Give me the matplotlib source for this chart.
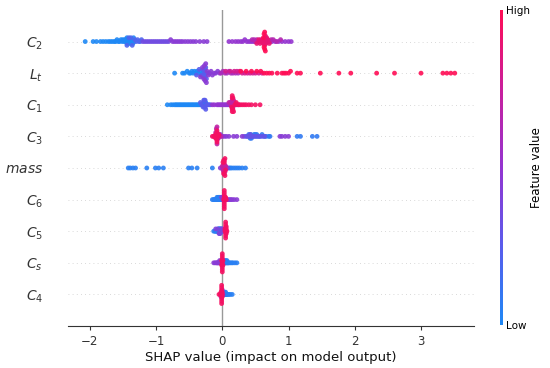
import numpy as np
import matplotlib
matplotlib.use("Agg")
import matplotlib.pyplot as plt
from matplotlib.colors import LinearSegmentedColormap
from matplotlib.cm import ScalarMappable

# features from top to bottom
features = [r"$C_2$", r"$L_t$", r"$C_1$", r"$C_3$", r"$mass$",
            r"$C_6$", r"$C_5$", r"$C_s$", r"$C_4$"]

# each feature: groups of SHAP values that share roughly the same feature value (colour)
C2_shap = [
    [-2.07, -1.95, -1.9, -1.84, -1.8, -1.76, -1.72, -1.69, -1.66, -1.63, -1.61, -1.59,
     -1.57, -1.55, -1.53, -1.51, -1.5, -1.48, -1.47, -1.46, -1.45, -1.44, -1.44,
     -1.43, -1.42, -1.41, -1.4, -1.39, -1.38, -1.37, -1.36, -1.35, -1.34, -1.33],
    [-1.44, -1.41, -1.38, -1.36, -1.32, -1.3, -1.28, -1.26, -1.24, -1.22],
    [-1.2, -1.17, -1.14, -1.11, -1.08, -1.05, -1.02, -0.99, -0.96, -0.93, -0.9, -0.87,
     -0.84, -0.81],
    [-0.78, -0.75, -0.72, -0.69, -0.66, -0.63, -0.6, -0.56, -0.52, -0.48, -0.44, -0.4,
     -0.34, -0.28, -0.23],
    [0.1, 0.15, 0.2, 0.24, 0.28, 0.31, 0.34, 0.37, 0.4, 0.43, 0.46, 0.49, 0.75, 0.8,
     0.85, 0.9, 0.95, 1.0, 1.04],
    [0.45, 0.48, 0.5, 0.52, 0.54, 0.56, 0.58, 0.66, 0.68, 0.7, 0.72, 0.74, 0.77, 0.82,
     0.88],
    [0.52, 0.55, 0.57, 0.59, 0.61, 0.62, 0.63, 0.63, 0.63, 0.64, 0.64, 0.65, 0.66, 0.67,
     0.69, 0.71],
    [0.62, 0.63, 0.63, 0.64, 0.64, 0.65],
]
C2_fval = [0.0, 0.2, 0.35, 0.45, 0.5, 0.65, 0.9, 1.0]

Lt_shap = [
    [-0.72, -0.6, -0.57, -0.53, -0.5, -0.48, -0.46, -0.44, -0.42, -0.4, -0.38, -0.36,
     -0.34, -0.32, -0.3, -0.28, -0.27],
    [-0.39, -0.35, -0.31, -0.29, -0.28, -0.27, -0.27, -0.26, -0.26, -0.25, -0.24, -0.22],
    [-0.33, -0.3, -0.28, -0.27, -0.26, -0.25, -0.24, -0.23, -0.21, -0.19, -0.17, -0.15,
     -0.12, -0.1, -0.07, -0.04],
    [-0.02, 0.01, 0.04, 0.07, 0.1, 0.13, 0.16, 0.2, 0.24],
    [0.05, 0.12, 0.18, 0.22, 0.26, 0.3, 0.34, 0.38, 0.42, 0.46, 0.5, 0.55, 0.6],
    [0.28, 0.36, 0.44, 0.52, 0.58, 0.63, 0.67, 0.71, 0.75, 0.83, 0.9, 0.93, 0.96, 1.0,
     1.03, 1.13, 1.18, 1.48, 1.76, 1.94, 2.33, 2.6, 3.0, 3.33, 3.39, 3.45, 3.51],
]
Lt_fval = [0.0, 0.25, 0.45, 0.6, 0.8, 1.0]

C1_shap = [
    [-0.83, -0.78, -0.75, -0.72, -0.7, -0.68, -0.66, -0.64, -0.62, -0.6, -0.58, -0.56,
     -0.54, -0.52, -0.5, -0.48, -0.46, -0.44, -0.42, -0.4, -0.38, -0.36, -0.34, -0.32,
     -0.3, -0.29, -0.28, -0.27, -0.27, -0.26, -0.25],
    [-0.33, -0.31, -0.29, -0.28, -0.27, -0.27, -0.26, -0.26, -0.25, -0.24, -0.23, -0.22,
     -0.2, -0.18],
    [-0.15, -0.12, -0.08, -0.06, -0.04, -0.02, 0.0, 0.02, 0.04, 0.06, 0.08, 0.1, 0.12,
     0.15, 0.16, 0.18],
    [0.1, 0.12, 0.13, 0.14, 0.15, 0.15, 0.15, 0.16, 0.16, 0.17, 0.18, 0.2, 0.22, 0.25],
    [0.14, 0.15, 0.15, 0.15, 0.15, 0.16, 0.16, 0.17, 0.19, 0.21, 0.24, 0.27, 0.3, 0.33,
     0.36, 0.4, 0.44, 0.5, 0.57],
]
C1_fval = [0.0, 0.25, 0.5, 0.7, 0.95]

C3_shap = [
    [-0.15, -0.12, -0.11, -0.1, -0.1, -0.09, -0.09, -0.09, -0.08, -0.08, -0.08, -0.08,
     -0.07, -0.07, -0.06, -0.05],
    [-0.13, -0.1, -0.09, -0.08, -0.08, -0.07, -0.06, -0.04, -0.02],
    [-0.03, 0.0, 0.03, 0.06, 0.1, 0.17, 0.22, 0.3, 0.87, 0.9, 0.95, 1.0],
    [0.33, 0.36, 0.38, 0.4, 0.42, 0.42, 0.43, 0.45, 0.48, 0.52, 0.56, 0.6, 0.64],
    [0.4, 0.42, 0.43, 0.44, 0.46, 0.48, 0.5, 0.5, 0.52, 0.54, 0.57, 0.6, 0.63, 0.66,
     0.7, 0.72, 1.13, 1.18, 1.36, 1.43],
]
C3_fval = [0.95, 0.7, 0.45, 0.3, 0.08]

mass_shap = [
    [-1.42, -1.39, -1.35, -1.31, -1.14, -1.01, -0.96, -0.89, -0.51, -0.46, -0.38, -0.15,
     0.1, 0.12, 0.14, 0.17, 0.2, 0.23, 0.26, 0.3, 0.35],
    [-0.03, 0.0, 0.01, 0.02, 0.03, 0.04, 0.05, 0.06, 0.08],
    [0.0, 0.01, 0.02, 0.02, 0.03, 0.03, 0.04, 0.05],
    [0.01, 0.02, 0.02, 0.03, 0.03, 0.03, 0.04, 0.04, 0.05],
]
mass_fval = [0.05, 0.45, 0.75, 0.95]

C6_shap = [
    [-0.15, -0.13, -0.12, -0.11, -0.1, -0.09, -0.08, -0.08, -0.07, -0.06, -0.06, -0.05,
     -0.05, -0.04, -0.04, -0.03, -0.02, -0.02, -0.01, 0.0],
    [-0.01, 0.0, 0.01, 0.03, 0.05, 0.07, 0.09, 0.11, 0.13, 0.15, 0.18, 0.22],
    [0.02, 0.03, 0.03, 0.03, 0.03, 0.03, 0.03, 0.03, 0.03, 0.04, 0.04, 0.05, 0.06],
]
C6_fval = [0.05, 0.45, 0.95]

C5_shap = [
    [-0.13, -0.11, -0.1, -0.09, -0.08, -0.07, -0.06, -0.06, -0.05, -0.05, -0.04, -0.04,
     -0.03, -0.03, -0.02, -0.02, -0.01, 0.0],
    [-0.1, -0.07, -0.05, -0.04, -0.03, -0.01, 0.0, 0.02],
    [0.05, 0.05, 0.05, 0.05, 0.05, 0.05, 0.05, 0.05, 0.06, 0.06, 0.06, 0.06, 0.04, 0.04,
     0.07],
]
C5_fval = [0.05, 0.4, 0.95]

Cs_shap = [
    [-0.13, -0.11, -0.09, -0.08, -0.07, -0.06, -0.05, -0.04, -0.04, -0.03, -0.02, -0.01],
    [0.01, 0.02, 0.03, 0.04, 0.05, 0.06, 0.07, 0.08, 0.09, 0.1, 0.12, 0.14, 0.16, 0.19,
     0.22, 0.03, 0.05, 0.07],
    [0.0, 0.0, 0.0, 0.0, 0.0, 0.0, 0.0, 0.0, 0.0, 0.01, -0.01, -0.01, 0.01],
]
Cs_fval = [0.45, 0.05, 0.95]

C4_shap = [
    [-0.05, -0.03, -0.02, -0.01, -0.01, -0.01, -0.01, -0.01, -0.01, -0.01, -0.01, -0.01,
     0.0, 0.0, 0.0, -0.02],
    [-0.02, 0.0, 0.01],
    [0.01, 0.02, 0.03, 0.04, 0.05, 0.06, 0.07, 0.08, 0.1, 0.12, 0.15, 0.03, 0.05],
]
C4_fval = [0.95, 0.5, 0.05]

rows = [(C2_shap, C2_fval), (Lt_shap, Lt_fval), (C1_shap, C1_fval),
        (C3_shap, C3_fval), (mass_shap, mass_fval), (C6_shap, C6_fval),
        (C5_shap, C5_fval), (Cs_shap, Cs_fval), (C4_shap, C4_fval)]

cmap = LinearSegmentedColormap.from_list(
    "red_blue", [(0.0, "#1e88f5"), (0.25, "#5a5cec"), (0.5, "#9434d0"),
                 (0.75, "#c91f9c"), (1.0, "#ff0d55")])


def swarm_offsets(vals, row_height=0.4, nbins=100):
    # same stacking idea as shap's beeswarm
    n = len(vals)
    quant = np.round(nbins * (vals - vals.min()) / (vals.max() - vals.min() + 1e-8))
    inds = np.argsort(quant, kind="stable")
    layer, last_bin = 0, -1
    ys = np.zeros(n)
    for i in inds:
        if quant[i] != last_bin:
            layer = 0
        ys[i] = np.ceil(layer / 2) * ((layer % 2) * 2 - 1)
        layer += 1
        last_bin = quant[i]
    ys *= 0.9 * (row_height / np.max(ys + 1))
    return ys


fig = plt.figure(figsize=(5.5, 3.68), dpi=100)
ax = fig.add_axes([0.1236, 0.114, 0.7382, 0.859])

n = len(features)
for k, (groups, fv) in enumerate(rows):
    pos = n - 1 - k
    ax.axhline(pos, color="#cccccc", lw=0.6, dashes=(1, 4), zorder=-1)
    vals = np.concatenate([np.array(g, float) for g in groups])
    cols = np.concatenate([np.full(len(g), f) for g, f in zip(groups, fv)])
    ys = swarm_offsets(vals)
    order = np.argsort(cols, kind="stable")
    ax.scatter(vals[order], pos + ys[order], c=cols[order], cmap=cmap, vmin=0, vmax=1,
               s=12, linewidths=0, alpha=0.9, zorder=3)

ax.axvline(0, color="#999999", lw=1, zorder=-1)

ax.set_ylim(-1, n)
ax.set_xlim(-2.33, 3.8)
ax.set_yticks(range(n))
ax.set_yticklabels(features[::-1], fontsize=10, color="#333333")
ax.tick_params(axis="y", length=0, pad=18)
ax.set_xticks([-2, -1, 0, 1, 2, 3])
ax.set_xticklabels(["\u22122", "\u22121", "0", "1", "2", "3"])
ax.tick_params(axis="x", labelsize=8.5, color="#333333", labelcolor="#333333", length=3)
for s in ["top", "right", "left"]:
    ax.spines[s].set_visible(False)
ax.spines["bottom"].set_color("#333333")
ax.set_xlabel("SHAP value (impact on model output)", fontsize=9.5, color="#111111",
              labelpad=2)

cax = fig.add_axes([0.909, 0.117, 0.0055, 0.856])
cb = fig.colorbar(ScalarMappable(cmap=cmap), cax=cax, ticks=[0, 1])
cb.set_ticklabels(["Low", "High"])
cb.outline.set_visible(False)
cb.ax.tick_params(labelsize=7.5, length=0, pad=2)
cb.set_label("Feature value", size=8.5, labelpad=0)

fig.savefig("out.png", dpi=100)
